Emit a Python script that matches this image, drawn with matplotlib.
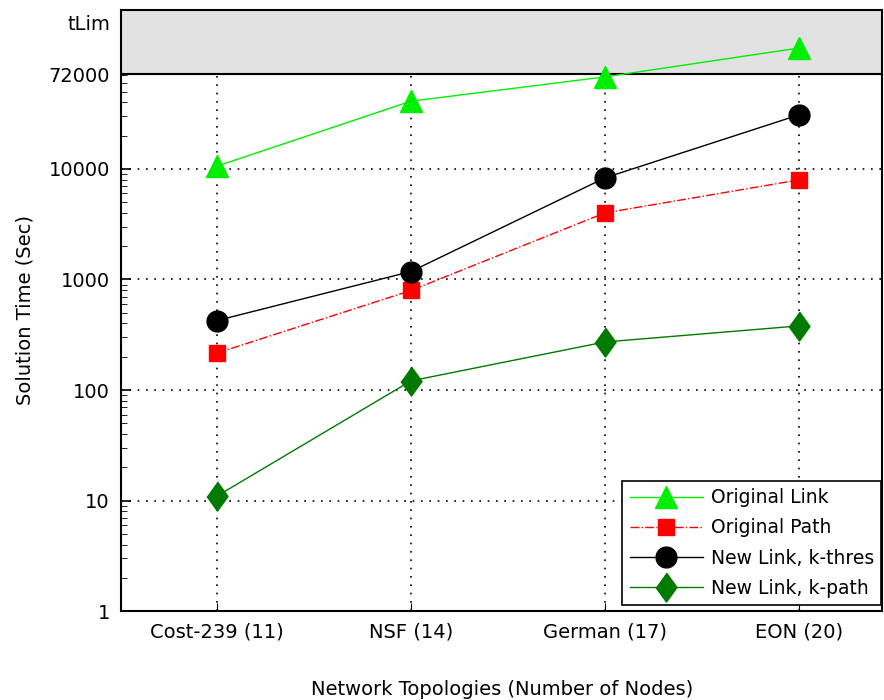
import matplotlib.pyplot as plt
from matplotlib.ticker import FixedLocator, NullFormatter

plt.rcParams['font.family'] = ['DejaVu Sans']

topologies = ['Cost-239 (11)', 'NSF (14)', 'German (17)', 'EON (20)']
orig_link = [10600, 41000, 68000, 124000]
orig_path = [216, 795, 4000, 7950]
new_link_thres = [425, 1180, 8300, 30800]
new_link_kpath = [11, 121, 272, 380]

t_lim_value = 72000
t_top = 275000
ytick_vals = [1, 10, 100, 1000, 10000, 72000, 210000]
ytick_labels = ['1', '10', '100', '1000', '10000', '72000', 'tLim']

fig = plt.figure(figsize=(8.84, 7.0), dpi=100)
ax = fig.add_axes([0.137, 0.127, 0.861, 0.859])

x = list(range(len(topologies)))
diamond = [(0, 1), (0.72, 0), (0, -1), (-0.72, 0)]

ax.axhspan(t_lim_value, t_top, color='#e2e2e2', zorder=0)
ax.axhline(t_lim_value, color='black', lw=1.5, zorder=1)

ax.plot(x, orig_link, color='#00ee00', marker='^', ms=16, lw=1, label='Original Link', zorder=3)
ax.plot(x, orig_path, color='red', marker='s', ms=12, lw=1, ls='-.', label='Original Path', zorder=3)
ax.plot(x, new_link_thres, color='black', marker='o', ms=15, lw=1, label='New Link, k-thres', zorder=3)
ax.plot(x, new_link_kpath, color='#007a00', marker=diamond, ms=21, lw=1, label='New Link, k-path', zorder=3)

ax.set_yscale('log')
ax.set_ylim(1, t_top)
ax.set_xlim(-0.495, 3.43)

ax.yaxis.set_major_locator(FixedLocator(ytick_vals))
ax.set_yticklabels(ytick_labels)
minor = [m * 10 ** e for e in range(0, 5) for m in range(2, 10) if m * 10 ** e < t_lim_value]
ax.yaxis.set_minor_locator(FixedLocator(minor))
ax.yaxis.set_minor_formatter(NullFormatter())
ax.set_xticks(x)
ax.set_xticklabels(topologies)

ax.tick_params(axis='both', which='both', direction='in', labelsize=14)
ax.tick_params(axis='y', which='major', length=7, width=1.2, pad=8)
ax.tick_params(axis='y', which='minor', length=4)
ax.tick_params(axis='x', length=6, pad=8)
# no tick mark for tLim
ax.yaxis.get_major_ticks()[-1].tick1line.set_visible(False)

# dotted grid only below the limit
for xv in x:
    ax.plot([xv, xv], [1, t_lim_value], color='black', ls=(0, (1, 4)), lw=1.2, zorder=1)
for yv in [10, 100, 1000, 10000]:
    ax.axhline(yv, color='black', ls=(0, (1, 4)), lw=1.2, zorder=1)

for s in ax.spines.values():
    s.set_linewidth(1.5)

ax.set_ylabel('Solution Time (Sec)', fontsize=14, labelpad=10)
ax.set_xlabel('Network Topologies (Number of Nodes)', fontsize=14, labelpad=28)

leg = ax.legend(loc='lower right', bbox_to_anchor=(1.0, 0.008), fontsize=13.5,
                fancybox=False, edgecolor='black', framealpha=1,
                handlelength=3.9, borderpad=0.4, labelspacing=0.6, handletextpad=0.4,
                borderaxespad=0.05)
leg.get_frame().set_linewidth(1.2)

fig.savefig('out.png', dpi=100)
